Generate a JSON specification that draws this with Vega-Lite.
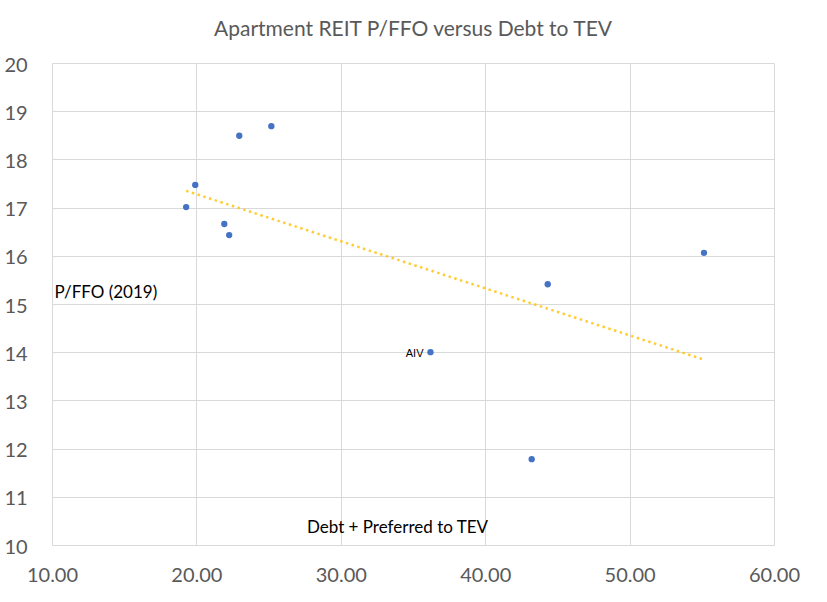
{
  "$schema": "https://vega.github.io/schema/vega-lite/v6.json",
  "width": 722,
  "height": 482,
  "padding": {"left": 4, "top": 19, "right": 24, "bottom": 5},
  "background": "white",
  "title": {
    "text": "Apartment REIT P/FFO versus Debt to TEV",
    "font": "Lato",
    "fontSize": 21,
    "fontWeight": "normal",
    "color": "#595959",
    "anchor": "middle",
    "offset": 15
  },
  "config": {
    "view": {"stroke": null},
    "axis": {
      "labelFont": "Lato",
      "labelFontSize": 20,
      "labelColor": "#595959",
      "labelFlush": false,
      "labelOverlap": false,
      "gridColor": "#D9D9D9",
      "gridWidth": 1,
      "domain": false,
      "ticks": false,
      "titleFont": "Lato",
      "titleFontWeight": "normal",
      "titleColor": "#000000",
      "titleFontSize": 17
    }
  },
  "data": {
    "values": [
      {"debt_tev": 19.29, "pffo": 17.01, "label": ""},
      {"debt_tev": 19.92, "pffo": 17.47, "label": ""},
      {"debt_tev": 22.97, "pffo": 18.49, "label": ""},
      {"debt_tev": 25.19, "pffo": 18.69, "label": ""},
      {"debt_tev": 21.93, "pffo": 16.66, "label": ""},
      {"debt_tev": 22.27, "pffo": 16.43, "label": ""},
      {"debt_tev": 44.33, "pffo": 15.41, "label": ""},
      {"debt_tev": 55.15, "pffo": 16.06, "label": ""},
      {"debt_tev": 36.21, "pffo": 14.0, "label": "AIV"},
      {"debt_tev": 43.22, "pffo": 11.78, "label": ""}
    ]
  },
  "encoding": {
    "x": {
      "field": "debt_tev",
      "type": "quantitative",
      "scale": {"domain": [10, 60], "nice": false, "zero": false},
      "axis": {
        "values": [10, 20, 30, 40, 50, 60],
        "format": ".2f",
        "labelPadding": 20,
        "title": "Debt + Preferred to TEV",
        "titleX": 345,
        "titleY": -18,
        "titleBaseline": "middle",
        "titleAnchor": null
      }
    },
    "y": {
      "field": "pffo",
      "type": "quantitative",
      "scale": {"domain": [10, 20], "nice": false, "zero": false},
      "axis": {
        "values": [10, 11, 12, 13, 14, 15, 16, 17, 18, 19, 20],
        "format": "d",
        "labelAlign": "left",
        "labelPadding": 48,
        "labelBaseline": "middle",
        "labelOffset": 2,
        "title": "P/FFO (2019)",
        "titleAngle": 0,
        "titleAlign": "left",
        "titleBaseline": "middle",
        "titleX": 2,
        "titleY": 229
      }
    }
  },
  "layer": [
    {
      "transform": [{"regression": "pffo", "on": "debt_tev"}],
      "mark": {"type": "line", "color": "#FFC000", "strokeWidth": 2.5, "strokeDash": [2.5, 3.5], "opacity": 0.8}
    },
    {
      "mark": {"type": "circle", "color": "#4472C4", "size": 40, "opacity": 1}
    },
    {
      "transform": [{"filter": "datum.label != ''"}],
      "mark": {"type": "text", "font": "Liberation Sans", "fontSize": 11, "color": "#000000", "align": "right", "baseline": "middle", "dx": -7, "dy": 2},
      "encoding": {"text": {"field": "label"}}
    }
  ]
}
